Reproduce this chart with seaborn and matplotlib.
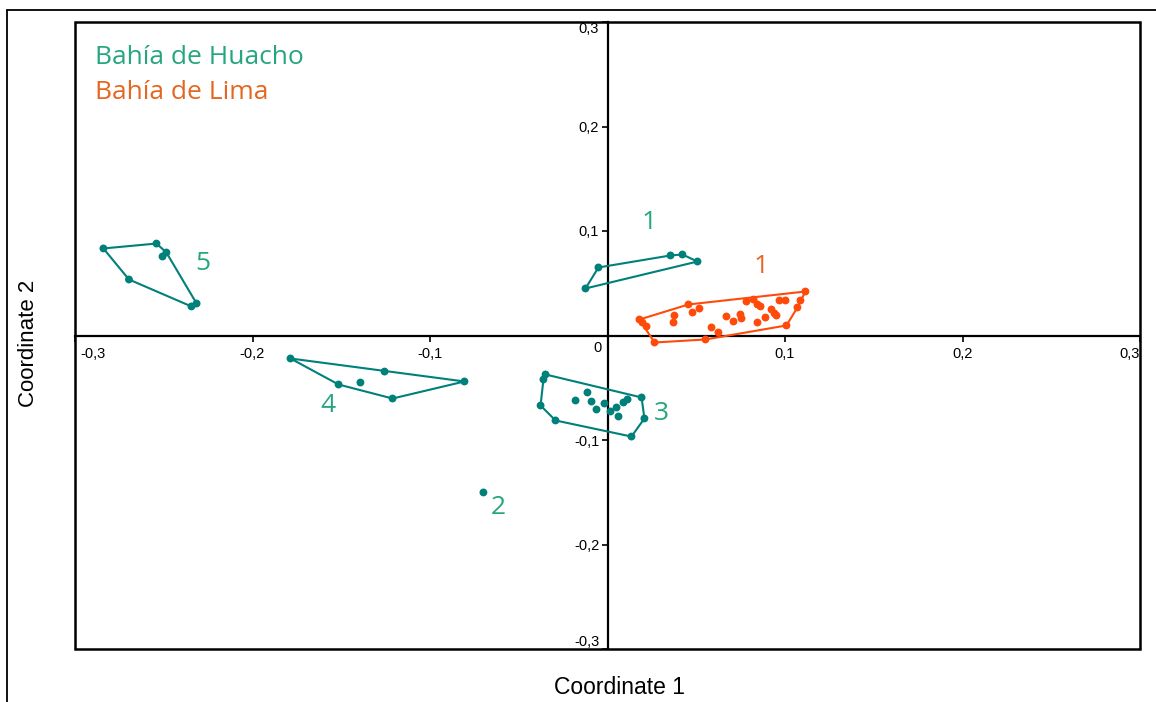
import numpy as np
import pandas as pd
import matplotlib
matplotlib.use("Agg")
import matplotlib.pyplot as plt
import seaborn as sns
from matplotlib.lines import Line2D
from matplotlib.patches import Rectangle
from matplotlib.transforms import ScaledTranslation

# ---------------- data ----------------
h1_x = [-0.0124, -0.0051, 0.0355, 0.0422, 0.0507]
h1_y = [0.0450, 0.0651, 0.0766, 0.0775, 0.0708]

h2_x = [-0.0699]
h2_y = [-0.1502]

h3_x = [-0.0349, -0.0361, -0.0377, -0.0293, 0.0135, 0.0208, 0.0192,
        -0.0180, -0.0113, -0.0090, -0.0062, -0.0017, 0.0017, 0.0051,
        0.0062, 0.0090, 0.0113]
h3_y = [-0.0373, -0.0421, -0.0670, -0.0813, -0.0967, -0.0794, -0.0593,
        -0.0622, -0.0545, -0.0632, -0.0708, -0.0651, -0.0727, -0.0689,
        -0.0775, -0.0641, -0.0612]

h4_x = [-0.1786, -0.1256, -0.0806, -0.1211, -0.1515, -0.1392]
h4_y = [-0.0220, -0.0345, -0.0440, -0.0603, -0.0469, -0.0450]

h5_x = [-0.2840, -0.2541, -0.2485, -0.2507, -0.2696, -0.2344, -0.2315]
h5_y = [0.0833, 0.0880, 0.0794, 0.0756, 0.0536, 0.0278, 0.0306]

l1_x = [0.0180, 0.0197, 0.0220, 0.0265, 0.0377, 0.0372, 0.0456, 0.0479,
        0.0518, 0.0552, 0.0586, 0.0625, 0.0670, 0.0710, 0.0749, 0.0755,
        0.0783, 0.0823, 0.0845, 0.0845, 0.0862, 0.0890, 0.0924, 0.0941,
        0.0952, 0.0969, 0.1003, 0.1008, 0.1070, 0.1087, 0.1115]
l1_y = [0.0153, 0.0124, 0.0086, -0.0067, 0.0191, 0.0124, 0.0297, 0.0220,
        0.0258, -0.0038, 0.0077, 0.0029, 0.0182, 0.0134, 0.0201, 0.0163,
        0.0325, 0.0344, 0.0124, 0.0297, 0.0278, 0.0172, 0.0249, 0.0211,
        0.0191, 0.0335, 0.0335, 0.0096, 0.0268, 0.0335, 0.0421]

group_names = ["H1", "H2", "H3", "H4", "H5", "L1"]
group_sites = ["Huacho", "Huacho", "Huacho", "Huacho", "Huacho", "Lima"]
group_labels = ["1", "2", "3", "4", "5", "1"]
label_x = [0.0237, -0.0614, 0.0304, -0.1577, -0.2282, 0.0868]
label_y = [0.1081, -0.1646, -0.0746, -0.0670, 0.0689, 0.0660]

site_names = ["Bahía de Huacho", "Bahía de Lima"]
tick_vals = [-0.3, -0.2, -0.1, 0.0, 0.1, 0.2, 0.3]
tick_text = ["-0,3", "-0,2", "-0,1", "", "0,1", "0,2", "0,3"]

xs = [h1_x, h2_x, h3_x, h4_x, h5_x, l1_x]
ys = [h1_y, h2_y, h3_y, h4_y, h5_y, l1_y]

rows = []
for g, s, gx, gy in zip(group_names, group_sites, xs, ys):
    for a, b in zip(gx, gy):
        rows.append({"group": g, "site": s, "x": a, "y": b})
df = pd.DataFrame(rows)

# ---------------- style ----------------
sns.set_style("white")
plt.rcParams["font.family"] = ["Liberation Sans", "DejaVu Sans"]
plt.rcParams["text.color"] = "black"
plt.rcParams["xtick.color"] = "black"
plt.rcParams["ytick.color"] = "black"

marker_col = {"Huacho": "#00807a", "Lima": "#ff4a0a"}
text_col = {"Huacho": "#25a67e", "Lima": "#e5661e"}


def convex_hull(px, py):
    pts = sorted(set(zip(px, py)))
    if len(pts) < 3:
        return pts

    def cross(o, a, b):
        return (a[0] - o[0]) * (b[1] - o[1]) - (a[1] - o[1]) * (b[0] - o[0])

    lower, upper = [], []
    for p in pts:
        while len(lower) >= 2 and cross(lower[-2], lower[-1], p) <= 0:
            lower.pop()
        lower.append(p)
    for p in reversed(pts):
        while len(upper) >= 2 and cross(upper[-2], upper[-1], p) <= 0:
            upper.pop()
        upper.append(p)
    return lower[:-1] + upper[:-1]


fig = plt.figure(figsize=(11.56, 7.02), dpi=100)
ax = fig.add_axes([75 / 1156, 53 / 702, 1065 / 1156, 627 / 702])

# hulls
for g, s, gx, gy in zip(group_names, group_sites, xs, ys):
    hpts = convex_hull(gx, gy)
    if len(hpts) >= 3:
        hx = [p[0] for p in hpts] + [hpts[0][0]]
        hy = [p[1] for p in hpts] + [hpts[0][1]]
        ax.plot(hx, hy, color=marker_col[s], lw=1.5, zorder=3)

sns.scatterplot(data=df, x="x", y="y", hue="site", palette=marker_col,
                s=32, linewidth=0, legend=False, ax=ax, zorder=4)

for lab, lx, ly, s in zip(group_labels, label_x, label_y, group_sites):
    ax.text(lx, ly, lab, color=text_col[s], fontsize=19, family="Open Sans",
            ha="center", va="center")

ax.text(0.019, 0.944, site_names[0], transform=ax.transAxes,
        color=text_col["Huacho"], fontsize=19, family="Open Sans",
        ha="left", va="center")
ax.text(0.019, 0.887, site_names[1], transform=ax.transAxes,
        color=text_col["Lima"], fontsize=19, family="Open Sans",
        ha="left", va="center")

ax.set_xlim(-0.3, 0.3)
ax.set_ylim(-0.3, 0.3)
ax.set_xlabel("")
ax.set_ylabel("")

# central axes as spines through zero
ax.spines["top"].set_visible(False)
ax.spines["right"].set_visible(False)
ax.spines["left"].set_position(("data", 0))
ax.spines["bottom"].set_position(("data", 0))
for sp in ["left", "bottom"]:
    ax.spines[sp].set_color("black")
    ax.spines[sp].set_linewidth(1.6)
    ax.spines[sp].set_zorder(2)

# outer box of the plot area
ax.add_patch(Rectangle((0, 0), 1, 1, transform=ax.transAxes, fill=False,
                       edgecolor="black", lw=1.8, zorder=5, clip_on=False))

ax.set_xticks(tick_vals)
ax.set_xticklabels(tick_text)
ax.set_yticks(tick_vals)
ax.set_yticklabels(tick_text)
ax.tick_params(axis="x", direction="out", length=4, width=1.2, labelsize=10.5,
               pad=4, bottom=True, colors="black")
ax.tick_params(axis="y", direction="out", length=4, width=1.2, labelsize=10.5,
               pad=2, left=True, colors="black")
xl = ax.get_xticklabels()
xl[0].set_ha("left")
xl[0].set_transform(xl[0].get_transform() +
                    ScaledTranslation(4 / 72, 0, fig.dpi_scale_trans))
xl[-1].set_ha("right")
yl = ax.get_yticklabels()
yl[0].set_va("bottom")
yl[-1].set_va("top")

ax.annotate("0", xy=(0, 0), xytext=(-4, -4), textcoords="offset points",
            ha="right", va="top", fontsize=10.5)

fig.text(620 / 1156, 1 - 688 / 702, "Coordinate 1", fontsize=16.5,
         ha="center", va="center")
fig.text(28 / 1156, 1 - 343 / 702, "Coordinate 2", fontsize=16,
         ha="center", va="center", rotation=90)

# outer frame
fig.add_artist(Line2D([7 / 1156, 7 / 1156], [0, 1 - 9.5 / 702], color="black", lw=1.3))
fig.add_artist(Line2D([7 / 1156, 1], [1 - 9.5 / 702, 1 - 9.5 / 702], color="black", lw=1.3))

fig.savefig("out.png", dpi=100)
